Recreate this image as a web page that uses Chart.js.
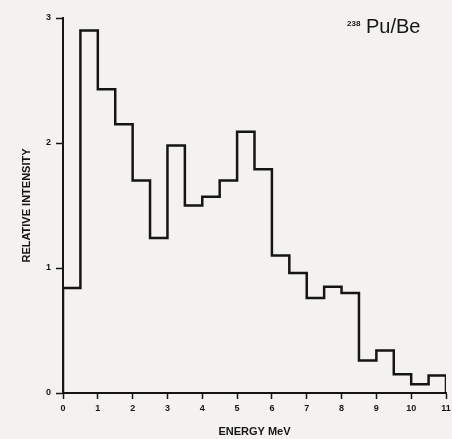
<!DOCTYPE html>
<html>
<head>
<meta charset="utf-8">
<script src="https://cdn.jsdelivr.net/npm/chart.js@4.4.1/dist/chart.umd.min.js"></script>
<style>
html,body{margin:0;padding:0;background:#f3f2ee;}
#wrap{width:452px;height:439px;position:relative;}
</style>
</head>
<body>
<div id="wrap"><canvas id="c" width="452" height="439"></canvas></div>
<script>
// Bin left edges (MeV), bin width 0.5 MeV
const binStarts = [0,0.5,1,1.5,2,2.5,3,3.5,4,4.5,5,5.5,6,6.5,7,7.5,8,8.5,9,9.5,10,10.5];
const binWidth = 0.5;
// Relative intensity per bin
const intensity = [0.84,2.90,2.43,2.15,1.70,1.24,1.98,1.50,1.57,1.70,2.09,1.79,1.10,0.96,0.76,0.85,0.80,0.26,0.34,0.15,0.07,0.14];
const xTicks = [0,1,2,3,4,5,6,7,8,9,10,11];
const yTicks = [0,1,2,3];

const pts = [{x: binStarts[0], y: 0}];
binStarts.forEach((s, i) => pts.push({x: s, y: intensity[i]}));
const lastEnd = binStarts[binStarts.length-1] + binWidth;
pts.push({x: lastEnd, y: intensity[intensity.length-1]});
pts.push({x: lastEnd, y: 0});

const ink = '#151515';
const fam = '"Liberation Sans", Arial, sans-serif';
const labelPlugin = {
  id: 'label',
  afterDraw(chart) {
    const ctx = chart.ctx;
    ctx.save();
    ctx.fillStyle = ink;
    ctx.textBaseline = 'alphabetic';
    ctx.font = 'bold 8px ' + fam;
    ctx.fillText('238', 347, 26);
    ctx.font = '20px ' + fam;
    ctx.fillText('Pu/Be', 366, 33);
    ctx.restore();
  }
};

new Chart(document.getElementById('c'), {
  type: 'line',
  data: {
    datasets: [{
      data: pts,
      stepped: 'before',
      borderColor: ink,
      borderWidth: 2.5,
      pointRadius: 0,
      fill: false
    }]
  },
  options: {
    responsive: false,
    animation: false,
    layout: {padding: {top: 18, right: 0, left: 0, bottom: 0}},
    plugins: {legend: {display: false}, tooltip: {enabled: false}},
    scales: {
      x: {
        type: 'linear', min: 0, max: 11,
        afterBuildTicks(s) { s.ticks = xTicks.map(v => ({value: v})); },
        afterFit(s) { s.height = 46; s.paddingRight = 6; },
        grid: {drawOnChartArea: false, drawTicks: true, tickLength: 6, color: ink, tickWidth: 1.5},
        border: {display: true, color: ink, width: 2},
        ticks: {color: ink, font: {family: fam, size: 9, weight: 'bold'}, padding: 4, maxRotation: 0, autoSkip: false},
        title: {display: true, text: 'ENERGY MeV', color: ink, font: {family: fam, size: 11, weight: 'bold'}, padding: {top: 6, bottom: 0}}
      },
      y: {
        type: 'linear', min: 0, max: 3,
        afterBuildTicks(s) { s.ticks = yTicks.map(v => ({value: v})); },
        afterFit(s) { s.width = 63; },
        grid: {drawOnChartArea: false, drawTicks: true, tickLength: 7, color: ink, tickWidth: 1.5},
        border: {display: true, color: ink, width: 2},
        ticks: {color: ink, font: {family: fam, size: 9, weight: 'bold'}, padding: 5},
        title: {display: true, text: 'RELATIVE INTENSITY', color: ink, font: {family: fam, size: 11, weight: 'bold'}, padding: {top: 20, bottom: 0}}
      }
    }
  },
  plugins: [labelPlugin]
});
</script>
</body>
</html>
